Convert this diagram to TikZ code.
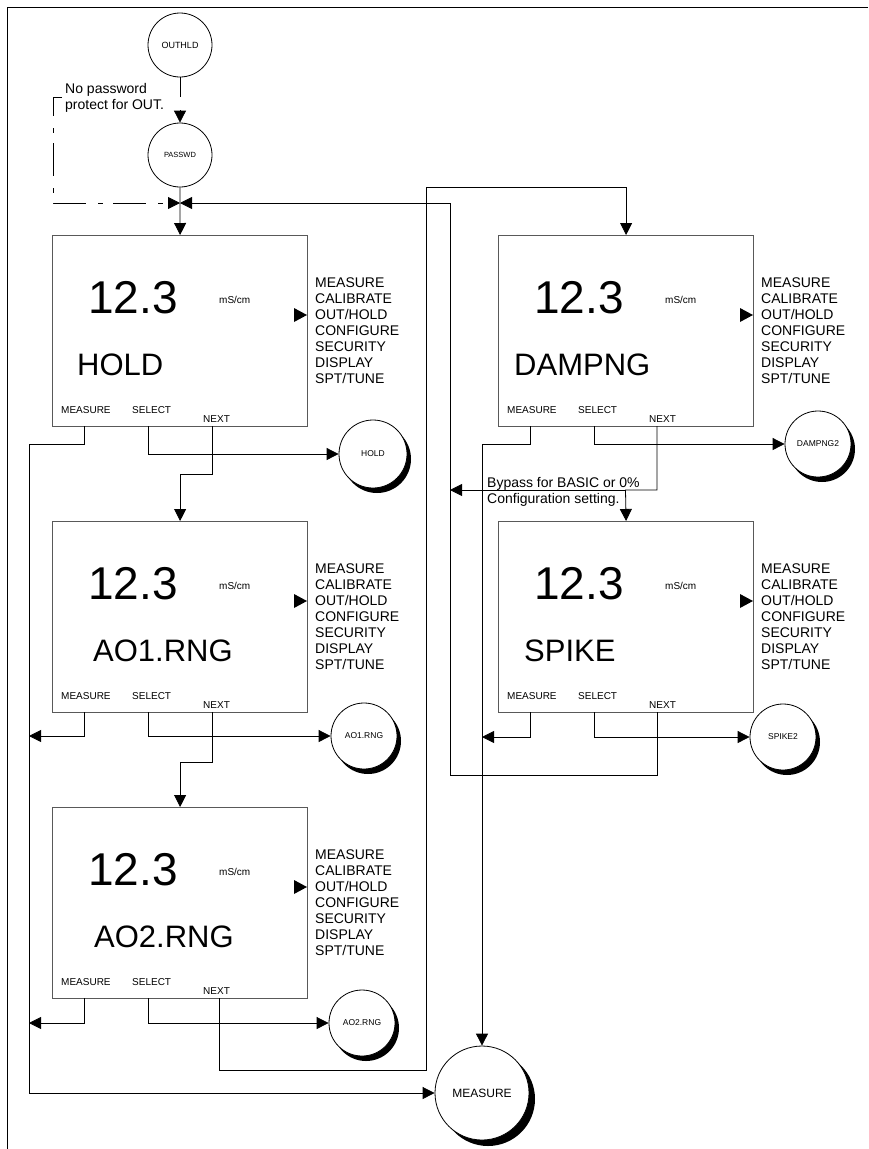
\documentclass[tikz,border=0pt]{standalone}
\usepackage{fontspec}
\setmainfont{Liberation Sans}
\usetikzlibrary{arrows.meta,shadows}

\tikzset{
  conn/.style={line width=0.8pt, draw=black},
  arr/.style={conn, -{Triangle[length=12pt,width=12pt]}},
  dashdot/.style={conn, dash pattern=on 5pt off 10pt on 33pt off 12pt, dash phase=20pt},
  lcd/.style={draw=black!65, line width=1.2pt, minimum width=255pt, minimum height=191pt, inner sep=0pt},
  txt/.style={anchor=base west, inner sep=0pt},
  keylab/.style={txt, font=\fontsize{10}{10}\selectfont},
  menulab/.style={txt, font=\fontsize{14}{16}\selectfont},
  plainc/.style={circle, draw=black, line width=0.8pt, fill=white, inner sep=0pt, minimum size=64pt},
  shadc/.style={plainc, minimum size=66pt, drop shadow={shadow xshift=4pt, shadow yshift=-5pt, opacity=1, fill=black}},
  bigshadc/.style={plainc, minimum size=94pt, drop shadow={shadow xshift=6pt, shadow yshift=-6pt, opacity=1, fill=black}}
}

% #1 name, #2 left, #3 top, #4 label, #5 label x offset, #6 NEXT line x offset
\newcommand{\lcdscreen}[6]{%
  \node[lcd, anchor=north west] (#1) at (#2,#3) {};
  \node[txt, font=\fontsize{46}{46}\selectfont] (#1-val) at (#2+36,#3+78) {12.3};
  \node[txt, font=\fontsize{10}{10}\selectfont] (#1-unit) at (#2+167,#3+68) {mS/cm};
  \node[txt, font=\fontsize{31}{31}\selectfont] (#1-lab) at (#2+#5,#3+140) {#4};
  \node[keylab] (#1-kmeas) at (#2+9,#3+178) {MEASURE};
  \node[keylab] (#1-ksel) at (#2+80,#3+178) {SELECT};
  \node[keylab] (#1-knext) at (#2+151,#3+187) {NEXT};
  \fill (#2+242,#3+73) -- (#2+255,#3+80) -- (#2+242,#3+87) -- cycle;
  \foreach \t [count=\i] in {MEASURE,CALIBRATE,OUT/HOLD,CONFIGURE,SECURITY,DISPLAY,SPT/TUNE}
    \node[menulab] (#1-menu\i) at (#2+263,#3+36+16*\i) {\t};
  \coordinate (#1-ms) at (#2+32,#3+191);
  \coordinate (#1-ss) at (#2+96,#3+191);
  \coordinate (#1-n) at (#2+#6,#3+191);
}

\begin{document}
\begin{tikzpicture}[x=1pt, y=-1pt]
\useasboundingbox (0,0) rectangle (868,1149);

% frame
\draw[line width=1pt] (868,7.5) -- (7.5,7.5) -- (7.5,1149);

% top circles
\node[plainc, font=\fontsize{9}{9}\selectfont] (outhld) at (180,45) {OUTHLD};
\node[plainc, font=\fontsize{7.5}{7.5}\selectfont] (passwd) at (180,155) {PASSWD};
\coordinate (j1) at (180,97);
\coordinate (j2) at (180,110);
\coordinate (dstart) at (62,97);
\coordinate (bow) at (180,203);

\node[txt, font=\fontsize{14}{16}\selectfont] (note1) at (65,93) {No password};
\node[txt, font=\fontsize{14}{16}\selectfont] (note2) at (65,109) {protect for OUT.};

% screens
\lcdscreen{hold}{52}{235}{HOLD}{25}{160}
\lcdscreen{ao1}{52}{521}{AO1.RNG}{41}{160}
\lcdscreen{ao2}{52}{807}{AO2.RNG}{42}{167}
\lcdscreen{dampng}{498}{235}{DAMPNG}{16}{159}
\lcdscreen{spike}{498}{521}{SPIKE}{26}{159}

% side circles
\node[shadc, minimum size=68pt, font=\fontsize{8.5}{8.5}\selectfont] (holdc) at (373,454) {HOLD};
\node[shadc, font=\fontsize{8.5}{8.5}\selectfont] (ao1c) at (364,736) {AO1.RNG};
\node[shadc, font=\fontsize{8.5}{8.5}\selectfont] (ao2c) at (362,1023) {AO2.RNG};
\node[shadc, font=\fontsize{8.5}{8.5}\selectfont] (dampc) at (818,444) {DAMPNG2};
\node[shadc, font=\fontsize{8.5}{8.5}\selectfont] (spikec) at (783,737) {SPIKE2};
\node[bigshadc, font=\fontsize{12}{12}\selectfont] (measure) at (482,1093) {MEASURE};

% bus coordinates
\coordinate (bus1) at (29,736);
\coordinate (bus2) at (29,1023);
\coordinate (bus3) at (482,737);
\coordinate (byp) at (625.5,490);
\coordinate (bypend) at (450,490);

% top connectors
\draw[conn] (outhld) -- (j1);
\draw[arr] (j2) -- (passwd);
\draw[dashdot, -{Triangle[length=12pt,width=12pt]}] (dstart) -- (53,97) -- (53,203) -- (bow);
\draw[arr] (passwd) -- (hold.north);

% HOLD
\draw[arr] (hold-ms) |- (29,444) |- (measure);
\draw[arr] (hold-ss) |- (holdc);
\draw[arr] (hold-n) -- ++(0,48) -| (ao1.north);

% AO1
\draw[arr] (ao1-ms) |- (bus1);
\draw[arr] (ao1-ss) |- (ao1c);
\draw[arr] (ao1-n) -- ++(0,50) -| (ao2.north);

% AO2
\draw[arr] (ao2-ms) |- (bus2);
\draw[arr] (ao2-ss) |- (ao2c);
\draw[arr] (ao2-n) |- (426,1070) -- (426,187) -| (dampng.north);

% DAMPNG
\draw[arr] (dampng-ms) |- (482,444) -- (measure);
\draw[arr] (dampng-ss) |- (dampc);
\draw[arr] (dampng-n) |- (byp) -- (spike.north);
\draw[arr] (byp) -- (bypend);

% SPIKE
\draw[arr] (spike-ms) |- (bus3);
\draw[arr] (spike-ss) |- (spikec);
\draw[arr] (spike-n) |- (450,775) |- (bow);

% bypass note
\node[txt, font=\fontsize{14}{16}\selectfont] (byp1) at (487,487) {Bypass for BASIC or 0\%};
\node[txt, font=\fontsize{14}{16}\selectfont] (byp2) at (487,503) {Configuration setting.};
\end{tikzpicture}
\end{document}
